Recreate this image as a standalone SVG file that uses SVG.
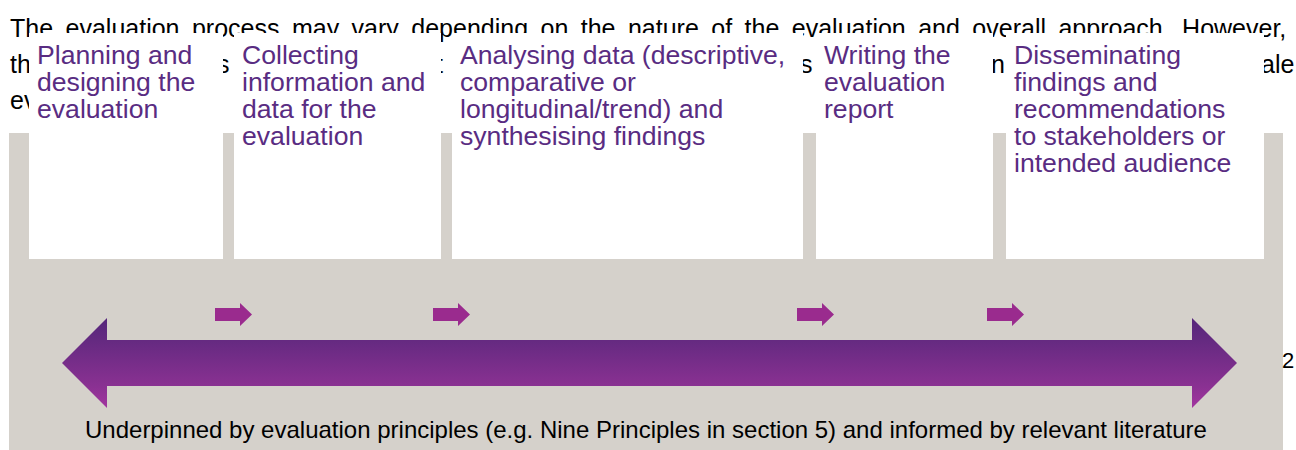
<svg xmlns="http://www.w3.org/2000/svg" width="1296" height="450" viewBox="0 0 1296 450">
  <style>
    .para { font-family: "Liberation Sans", Arial, sans-serif; font-size: 25px; fill: #000; }
    .box { fill: #ffffff; }
    .lbl { font-family: "Liberation Sans", Arial, sans-serif; font-size: 26.6px; fill: #592c82; }
    .foot { font-family: "Liberation Sans", Arial, sans-serif; font-size: 24px; fill: #000; }
    .step { fill: #9a2b8e; }
  </style>
  <defs>
    <linearGradient id="bigGrad" x1="0" y1="0" x2="0" y2="1">
      <stop offset="0" stop-color="#55257b"/>
      <stop offset="0.25" stop-color="#652a81"/>
      <stop offset="0.76" stop-color="#8a3192"/>
      <stop offset="1" stop-color="#a2349f"/>
    </linearGradient>
    <path id="smallArrow" d="M0,5 L25,5 L25,0 L37,11.5 L25,23 L25,18 L0,18 Z"/>
  </defs>

  <rect width="1296" height="450" fill="#ffffff"/>

  <g id="paragraph">
    <text class="para" x="10" y="37" word-spacing="5.5">The evaluation process may vary depending on the nature of the evaluation and overall approach. However,</text>
    <text class="para" x="10" y="73">th</text>
    <text class="para" x="217" y="73">s</text>
    <text class="para" x="436" y="73">t</text>
    <text class="para" x="800" y="73">s</text>
    <text class="para" x="991" y="73">n</text>
    <text class="para" x="1261" y="73">ale</text>
    <text class="para" x="10" y="109">ev</text>
  </g>

  <rect id="panel" x="9" y="133" width="1274" height="317" fill="#d5d1cb"/>

  <g id="node-planning">
    <rect class="box" x="29" y="33" width="194" height="226"/>
    <text class="lbl" x="37" y="64">Planning and</text>
    <text class="lbl" x="37" y="91">designing the</text>
    <text class="lbl" x="37" y="118">evaluation</text>
  </g>
  <g id="node-collecting">
    <rect class="box" x="234" y="33" width="207" height="226"/>
    <text class="lbl" x="242" y="64">Collecting</text>
    <text class="lbl" x="242" y="91">information and</text>
    <text class="lbl" x="242" y="118">data for the</text>
    <text class="lbl" x="242" y="145">evaluation</text>
  </g>
  <g id="node-analysing">
    <rect class="box" x="452" y="33" width="351" height="226"/>
    <text class="lbl" x="460" y="64">Analysing data (descriptive,</text>
    <text class="lbl" x="460" y="91">comparative or</text>
    <text class="lbl" x="460" y="118">longitudinal/trend) and</text>
    <text class="lbl" x="460" y="145">synthesising findings</text>
  </g>
  <g id="node-writing">
    <rect class="box" x="816" y="33" width="177" height="226"/>
    <text class="lbl" x="824" y="64">Writing the</text>
    <text class="lbl" x="824" y="91">evaluation</text>
    <text class="lbl" x="824" y="118">report</text>
  </g>
  <g id="node-disseminating">
    <rect class="box" x="1006" y="33" width="258" height="226"/>
    <text class="lbl" x="1014" y="64">Disseminating</text>
    <text class="lbl" x="1014" y="91">findings and</text>
    <text class="lbl" x="1014" y="118">recommendations</text>
    <text class="lbl" x="1014" y="145">to stakeholders or</text>
    <text class="lbl" x="1014" y="172">intended audience</text>
  </g>

  <g id="connectors">
    <use href="#smallArrow" class="step" x="215" y="303"/>
    <use href="#smallArrow" class="step" x="433" y="303"/>
    <use href="#smallArrow" class="step" x="797" y="303"/>
    <use href="#smallArrow" class="step" x="987" y="303"/>
    <path d="M62,363 L107,318 L107,340 L1192,340 L1192,318 L1237,363 L1192,408 L1192,386 L107,386 L107,408 Z" fill="url(#bigGrad)"/>
  </g>

  <text class="foot" x="85" y="438">Underpinned by evaluation principles (e.g. Nine Principles in section 5) and informed by relevant literature</text>
  <text class="para" x="1282" y="368" style="font-size:22px">2</text>
</svg>
